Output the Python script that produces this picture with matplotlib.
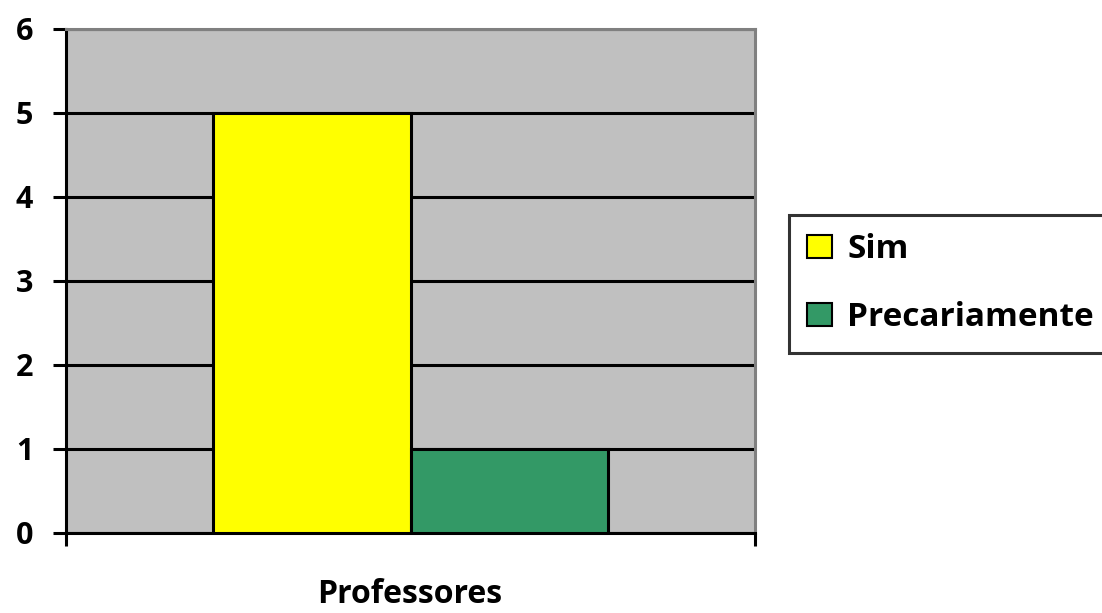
import matplotlib
matplotlib.use("Agg")
import matplotlib.pyplot as plt
from matplotlib.patches import Patch

# dados do gráfico
categorias = ["Professores"]
series = ["Sim", "Precariamente"]
valores = [5, 1]
cores = ["#FFFF00", "#339966"]
yticks = [0, 1, 2, 3, 4, 5, 6]

plt.rcParams["font.family"] = ["Open Sans", "DejaVu Sans"]
plt.rcParams["font.weight"] = "bold"

fig = plt.figure(figsize=(11.02, 6.13), dpi=100)
W, H = 1102, 613
ax = fig.add_axes([66 / W, (H - 533) / H, (755 - 66) / W, (533 - 29) / H])
ax.set_facecolor("#C0C0C0")

# barras lado a lado centradas na categoria
largura = 0.286
n = len(series)
for i, (nome, v, c) in enumerate(zip(series, valores, cores)):
    pos = (i - (n - 1) / 2) * largura
    ax.bar(pos, v, width=largura, color=c, edgecolor="black", linewidth=2.2,
           zorder=3, label=nome)

ax.set_xlim(-0.5, 0.5)
ax.set_ylim(0, 6)
ax.set_yticks(yticks)
ax.set_yticklabels([str(v) for v in yticks], fontsize=22, fontweight="bold")
ax.yaxis.grid(True, color="black", linewidth=2.2, zorder=1)
ax.set_axisbelow(True)

ax.set_xticks([-0.5, 0.5])
ax.set_xticklabels([])
ax.tick_params(axis="both", direction="out", length=9.5, width=2.2, color="black")
ax.tick_params(axis="y", pad=14)

for lado in ["left", "bottom"]:
    ax.spines[lado].set_color("black")
    ax.spines[lado].set_linewidth(2.2)
for lado in ["top", "right"]:
    ax.spines[lado].set_color("#808080")
    ax.spines[lado].set_linewidth(2.2)

# rótulo da categoria abaixo do eixo, posicionado pela linha de base
ax.set_xlabel(categorias[0], fontsize=23, fontweight="bold", va="baseline")
ax.xaxis.set_label_coords(0.499, -0.139)

handles = [Patch(facecolor=c, edgecolor="black", linewidth=1.5) for c in cores]
leg = fig.legend(handles, series, loc="upper left",
                 bbox_to_anchor=(789 / W, 1 - 215 / H), borderaxespad=0,
                 fancybox=False, frameon=True,
                 prop={"weight": "bold", "size": 24},
                 handlelength=0.75, handleheight=0.68, handletextpad=0.45,
                 labelspacing=1.05, borderpad=0.55)
leg.get_frame().set_edgecolor("black")
leg.get_frame().set_linewidth(2.2)

fig.savefig("out.png", dpi=100, facecolor="white")
